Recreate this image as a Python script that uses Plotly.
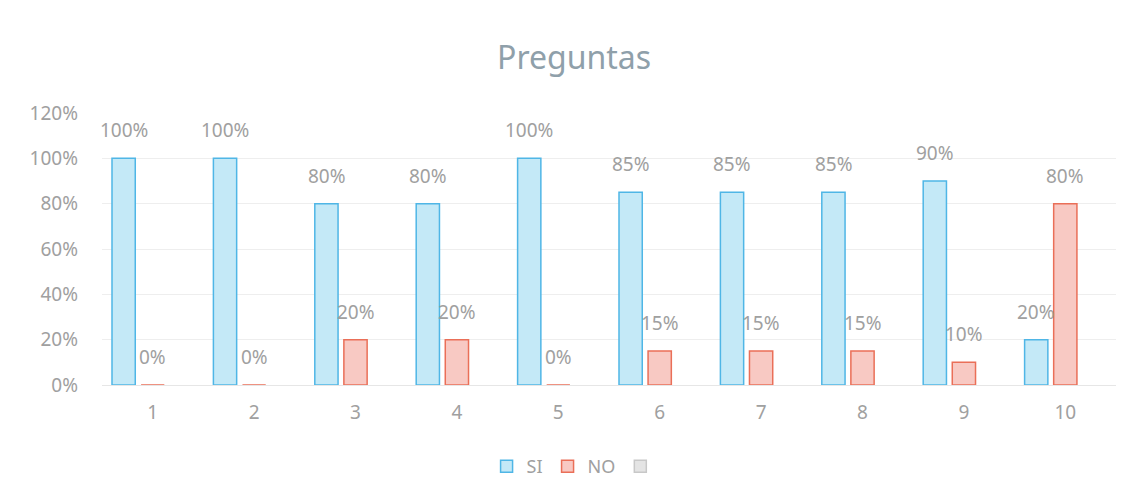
import plotly.graph_objects as go

categories = ["1", "2", "3", "4", "5", "6", "7", "8", "9", "10"]
si_values = [1.00, 1.00, 0.80, 0.80, 1.00, 0.85, 0.85, 0.85, 0.90, 0.20]
no_values = [0.00, 0.00, 0.20, 0.20, 0.00, 0.15, 0.15, 0.15, 0.10, 0.80]
empty_values = [None] * 10
y_ticks = [0, 0.2, 0.4, 0.6, 0.8, 1.0, 1.2]

FONT = "Noto Sans"
LABEL = "#a0a0a0"

fig = go.Figure()
fig.add_trace(go.Bar(name="SI", x=categories, y=si_values,
                     marker=dict(color="#c4e9f7", line=dict(color="#4fb6e6", width=1.5))))
fig.add_trace(go.Bar(name="NO", x=categories, y=no_values,
                     marker=dict(color="#f8c9c3", line=dict(color="#ea6f58", width=1.5))))
fig.add_trace(go.Bar(name=" ", x=categories, y=empty_values,
                     marker=dict(color="#e4e4e4", line=dict(color="#c8c8c8", width=1.5))))

offsets = {"SI": -29, "NO": 0}
for name, vals in (("SI", si_values), ("NO", no_values)):
    for i, v in enumerate(vals):
        fig.add_annotation(x=i, y=v, xref="x", yref="y", text=f"{round(v*100)}%",
                           showarrow=False, xshift=offsets[name], yshift=13,
                           yanchor="bottom", font=dict(family=FONT, size=19, color=LABEL))

fig.update_layout(
    width=1139, height=504,
    paper_bgcolor="white", plot_bgcolor="white",
    margin=dict(l=94, r=31, t=105, b=127),
    title=dict(text="Preguntas", x=0.497, xanchor="center", y=0.901, yanchor="middle",
               font=dict(family=FONT, size=32, color="#8fa0aa")),
    barmode="group", bargap=0.14, bargroupgap=0.2,
    showlegend=True,
    legend=dict(orientation="h", x=0.47, xanchor="center", y=-0.3, yanchor="middle",
                font=dict(family=FONT, size=18, color=LABEL), itemwidth=30),
    font=dict(family=FONT, color=LABEL),
)
fig.update_xaxes(type="category", range=[-0.5, len(categories) - 0.5], autorange=False,
                 showgrid=False, showline=True, linecolor="#e6e6e6", linewidth=1,
                 tickfont=dict(family=FONT, size=19, color=LABEL), ticks="",
                 ticklabelstandoff=10, automargin=False, layer="above traces")
fig.update_yaxes(range=[0, 1.2], tickvals=y_ticks, tickformat=".0%",
                 showgrid=True, gridcolor="#eeeeee", gridwidth=1, zeroline=False,
                 tickfont=dict(family=FONT, size=19, color=LABEL), ticklabelstandoff=23,
                 automargin=False)

fig.write_html("out.html")
